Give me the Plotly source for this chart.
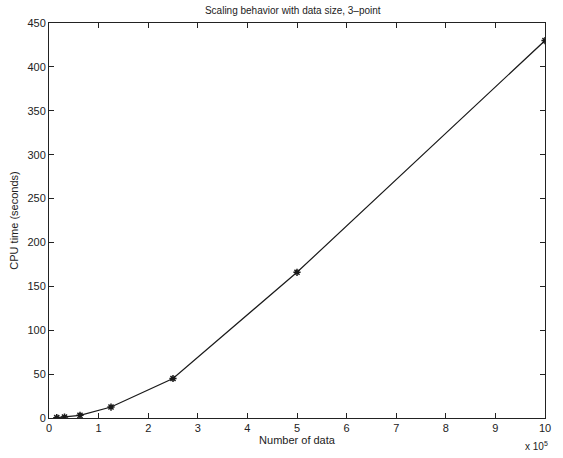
import plotly.graph_objects as go

# Data (number of data in units of 1e5, CPU time in seconds)
n_data = [0.15625, 0.3125, 0.625, 1.25, 2.5, 5, 10]
cpu_time = [0.4, 1.0, 3.0, 12.5, 45, 166, 430]
x_ticks = list(range(0, 11))
y_ticks = list(range(0, 451, 50))

fig = go.Figure()
fig.add_trace(go.Scatter(
    x=n_data, y=cpu_time, mode="lines+markers",
    line=dict(color="#1a1a1a", width=1.2),
    marker=dict(symbol="asterisk-open", size=6, color="#1a1a1a",
                line=dict(color="#1a1a1a", width=1.5)),
    showlegend=False,
))

font = dict(family="Liberation Sans, Arial, sans-serif", size=11, color="#222")
axis_common = dict(
    showgrid=False, zeroline=False, showline=True, linecolor="#222", linewidth=1,
    mirror="ticks", ticks="inside", ticklen=5, tickcolor="#222", tickwidth=1,
    tickfont=font,
)
fig.update_layout(
    width=563, height=458,
    margin=dict(l=49, r=13, t=23, b=40),
    paper_bgcolor="white", plot_bgcolor="white",
    font=font,
    title=dict(text="Scaling behavior with data size, 3\u2013point", x=0.52, xanchor="center",
               y=0.985, yanchor="top", font=dict(size=10, family=font["family"], color="#222")),
    xaxis=dict(range=[0, 10], tickvals=x_ticks, ticktext=[str(v) for v in x_ticks],
               title=dict(text="Number of data", standoff=2, font=font), **axis_common),
    yaxis=dict(range=[0, 450], tickvals=y_ticks, ticktext=[str(v) for v in y_ticks],
               title=dict(text="CPU time (seconds)", standoff=6, font=font), **axis_common),
    annotations=[dict(text="x 10<sup>5</sup>", xref="paper", yref="paper", x=1.01, y=-0.05,
                      xanchor="right", yanchor="top", showarrow=False,
                      font=dict(size=10, family=font["family"], color="#222"))],
)
fig.write_html("out.html")
